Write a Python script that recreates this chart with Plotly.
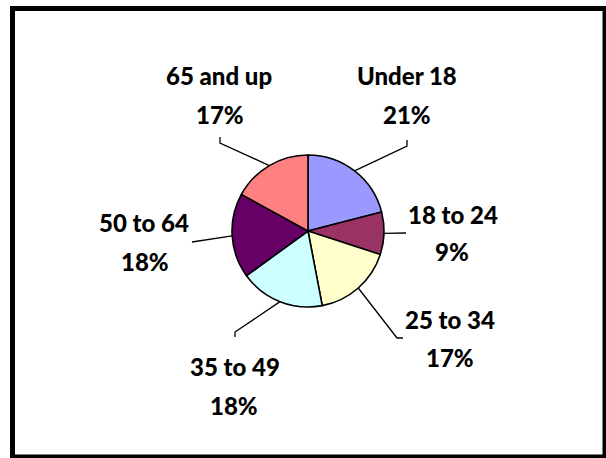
import math
import plotly.graph_objects as go

# Age groups and their share of the population (percent)
age_groups = ["Under 18", "18 to 24", "25 to 34", "35 to 49", "50 to 64", "65 and up"]
shares = [21, 9, 17, 18, 18, 17]
slice_colors = ["#9999FF", "#993366", "#FFFFCC", "#CCFFFF", "#660066", "#FF8080"]

W, H = 606, 458
CX, CY, R = 308, 231, 76  # pie centre and radius in pixels

# Label placement per slice: (name centre, percent centre, leader-line bend points)
label_layout = {
    "Under 18":  {"name": (407, 76),  "pct": (407, 114), "bend": [(407, 146), (407, 140)]},
    "18 to 24":  {"name": (453, 214), "pct": (452, 252), "bend": [(406, 233)]},
    "25 to 34":  {"name": (450, 319), "pct": (450, 357), "bend": [(397, 338), (403, 338)]},
    "35 to 49":  {"name": (235, 366), "pct": (234, 405), "bend": [(235, 332), (235, 337)]},
    "50 to 64":  {"name": (144, 222), "pct": (145, 261), "bend": [(192, 242)]},
    "65 and up": {"name": (219, 76),  "pct": (220, 114), "bend": [(220, 143), (220, 137)]},
}


def px(x, y):
    """Pixel position -> paper coordinates."""
    return x / W, 1 - y / H


fig = go.Figure(
    go.Pie(
        labels=age_groups,
        values=shares,
        sort=False,
        direction="clockwise",
        rotation=0,
        marker=dict(colors=slice_colors, line=dict(color="black", width=1.6)),
        textinfo="none",
        hoverinfo="label+percent",
        showlegend=False,
        domain=dict(
            x=[(CX - R) / W, (CX + R) / W],
            y=[1 - (CY + R) / H, 1 - (CY - R) / H],
        ),
    )
)

font = dict(family="Lato, 'Open Sans', sans-serif", size=24, color="black", weight=900)
shapes = []
annotations = []
total = sum(shares)
start = 0.0
for name, value in zip(age_groups, shares):
    span = 360.0 * value / total
    mid = math.radians(start + span / 2)
    start += span
    # leader line from the slice edge to the label
    ex, ey = CX + R * math.sin(mid), CY - R * math.cos(mid)
    pts = [(ex, ey)] + label_layout[name]["bend"]
    path = "M " + " L ".join("{:.5f},{:.5f}".format(*px(x, y)) for x, y in pts)
    shapes.append(dict(type="path", xref="paper", yref="paper", path=path,
                       line=dict(color="black", width=1.3)))
    for key, text in (("name", name), ("pct", f"{value}%")):
        ax, ay = px(*label_layout[name][key])
        annotations.append(dict(x=ax, y=ay, xref="paper", yref="paper",
                                text=text, showarrow=False,
                                xanchor="center", yanchor="middle", font=font))

# outer frame
fx0, fy0 = px(12.5, 8.5)
fx1, fy1 = px(605, 457)
shapes.append(dict(type="rect", xref="paper", yref="paper",
                   x0=fx0, y0=fy1, x1=fx1, y1=fy0,
                   line=dict(color="black", width=5)))

fig.update_layout(
    width=W, height=H,
    margin=dict(l=0, r=0, t=0, b=0),
    paper_bgcolor="white", plot_bgcolor="white",
    shapes=shapes, annotations=annotations,
)

fig.write_html("out.html")
